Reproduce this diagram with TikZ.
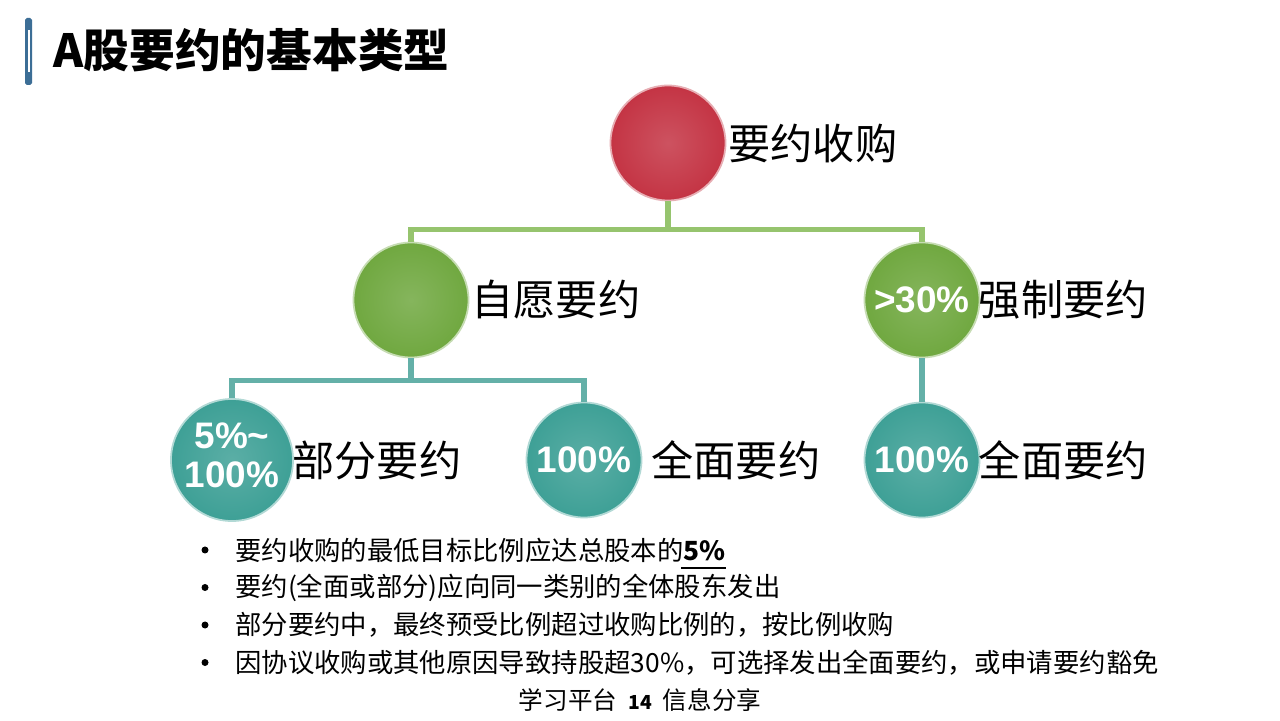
\documentclass[tikz,border=0pt]{standalone}
\usepackage{fontspec}
\setmainfont{Liberation Sans}
\newfontfamily\cjk{Noto Sans CJK SC}
\usetikzlibrary{positioning}
\definecolor{redball}{RGB}{196,52,68}
\definecolor{greenball}{RGB}{112,168,64}
\definecolor{tealball}{RGB}{62,160,150}
\definecolor{greenline}{RGB}{150,196,110}
\definecolor{tealline}{RGB}{100,176,168}
\definecolor{barblue}{RGB}{60,110,150}
\tikzset{
  ball/.style={circle,minimum size=2.3cm,inner sep=0pt,draw=#1!40!white,line width=1pt,
    inner color=#1!85!white,outer color=#1,text=white,font=\bfseries\fontsize{21}{22}\selectfont},
  lab/.style={font=\cjk\fontsize{24}{26}\selectfont,inner sep=1pt},
  link/.style={line width=3pt,draw=#1},
  bullet/.style={font=\cjk\fontsize{15}{16}\selectfont,anchor=west,inner sep=0pt}
}
\begin{document}
\begin{tikzpicture}
\useasboundingbox[fill=white] (0,0) rectangle (25.6,14.4);
% title
\fill[barblue,rounded corners=1pt] (0.5,12.7) rectangle (0.64,14.04);
\fill[white] (0.55,12.95) rectangle (0.59,13.8);
\node[anchor=west,font=\cjk\bfseries\fontsize{26}{30}\selectfont] (title) at (0.95,13.4) {A股要约的基本类型};
% circles
\node[ball=redball] (root) at (13.36,11.54) {};
\node[ball=greenball] (vol) at (8.22,8.4) {};
\node[ball=greenball] (mand) at (18.44,8.4) {>30\%};
\node[ball=tealball] (part) at (4.64,5.2) {\begin{tabular}{@{}c@{}}5\%\textasciitilde\\100\%\end{tabular}};
\node[ball=tealball] (full) at (11.68,5.2) {100\%};
\node[ball=tealball] (full2) at (18.44,5.2) {100\%};
% labels
\node[lab,anchor=west] (lroot) at (root.east) {要约收购};
\node[lab,anchor=west] (lvol) at (vol.east) {自愿要约};
\node[lab,anchor=west] (lmand) at ([xshift=-2pt]mand.east) {强制要约};
\node[lab,anchor=west] (lpart) at ([xshift=-2pt]part.east) {部分要约};
\node[lab,anchor=west] (lfull) at ([xshift=4pt]full.east) {全面要约};
\node[lab,anchor=west] (lfull2) at ([xshift=-2pt]full2.east) {全面要约};
% connectors
\draw[link=greenline] (root.south) -- ++(0,-0.56) -| (vol.north);
\draw[link=greenline] (root.south) ++(0,-0.56) -| (mand.north);
\draw[link=tealline] (vol.south) -- ++(0,-0.44) -| (part.north);
\draw[link=tealline] (vol.south) ++(0,-0.44) -| (full.north);
\draw[link=tealline] (mand.south) -- (full2.north);
% notes
\node[bullet] (b1) at (4.7,3.4) {要约收购的最低目标比例应达总股本的\textbf{5\%}};
\draw[line width=0.8pt] ([yshift=-3pt]b1.south east) -- ++(-0.9,0);
\node[bullet,below=0.75cm of b1.west,anchor=west] (b2) {要约(全面或部分)应向同一类别的全体股东发出};
\node[bullet,below=0.75cm of b2.west,anchor=west] (b3) {部分要约中，最终预受比例超过收购比例的，按比例收购};
\node[bullet,below=0.75cm of b3.west,anchor=west] (b4) {因协议收购或其他原因导致持股超30\%，可选择发出全面要约，或申请要约豁免};
\foreach \b in {b1,b2,b3,b4}
  \fill ([xshift=-0.6cm]\b.west) circle (0.07);
\node[font=\cjk\fontsize{14}{15}\selectfont] (foot) at (12.8,0.4) {学习平台\ \ \textbf{\fontsize{11}{12}\selectfont 14}\ \ 信息分享};
\end{tikzpicture}
\end{document}
